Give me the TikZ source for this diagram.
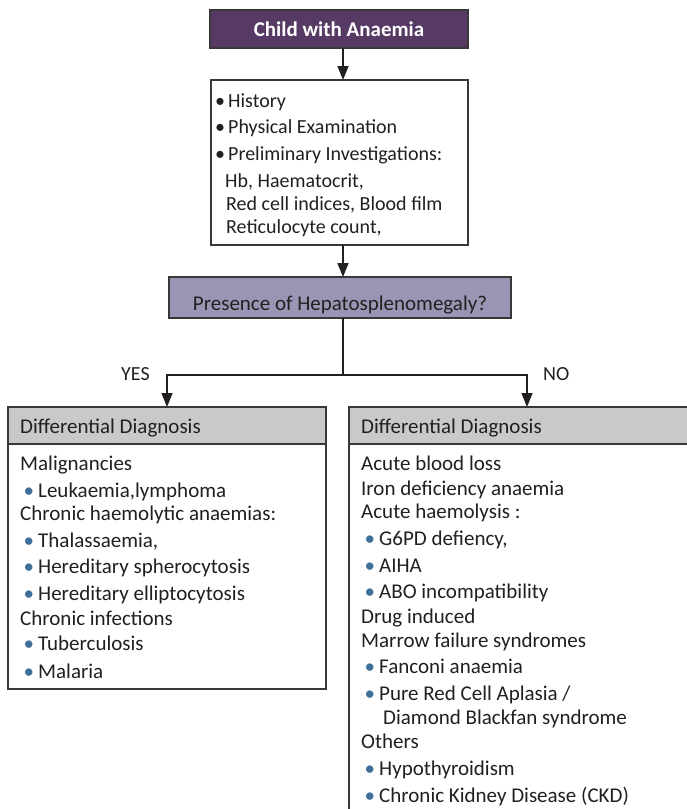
\documentclass[tikz,border=0pt]{standalone}
\usepackage{fontspec}
\setmainfont{Carlito}
\usetikzlibrary{arrows.meta}
\definecolor{purp}{HTML}{563A63}
\definecolor{lav}{HTML}{9896B4}
\definecolor{hdr}{HTML}{C9C9C9}
\definecolor{bul}{HTML}{3F6F9A}
\definecolor{edge}{HTML}{383838}
\definecolor{ink}{HTML}{231F20}
\tikzset{
  box/.style={draw=edge, line width=1.3pt, inner sep=0pt, outer sep=0pt},
  txt/.style={anchor=base west, inner sep=0pt, text=ink, font=\fontsize{21}{24}\selectfont},
  htxt/.style={txt, font=\fontsize{20}{24}\selectfont},
  arr/.style={draw=ink, line width=1.5pt, -{Triangle[length=14pt,width=11pt]}},
  lnk/.style={draw=ink, line width=1.5pt},
}
\newcommand{\bb}{\llap{\textcolor{bul}{\textbullet}\hspace{4pt}}}
\newcommand{\kb}{\llap{\textbullet\hspace{3pt}}}
\begin{document}
\begin{tikzpicture}[x=1pt,y=-1pt]
\useasboundingbox[fill=white] (0,0) rectangle (687,809);
% top
\node[box, fill=purp, minimum width=258pt, minimum height=38pt, text=white, font=\fontsize{21}{24}\selectfont\bfseries] (top) at (339,29) {Child with Anaemia};
% history box
\node[box, fill=white, minimum width=257pt, minimum height=165pt] (hist) at (339.5,162.5) {};
\node[htxt] (h1) at (228,107) {\kb History};
\node[htxt] (h2) at (228,133) {\kb Physical Examination};
\node[htxt] (h3) at (228,160) {\kb Preliminary Investigations:};
\node[htxt] (h4) at (225,187) {Hb, Haematocrit,};
\node[htxt] (h5) at (226,210) {Red cell indices, Blood film};
\node[htxt] (h6) at (226,233) {Reticulocyte count,};
% question
\node[box, fill=lav, minimum width=342pt, minimum height=41pt] (q) at (340,297.5) {};
\node[txt, anchor=base] (qt) at (340,310) {Presence of Hepatosplenomegaly?};
\coordinate (spine) at (343,0);
\draw[arr] (top.south -| spine) -- (hist.north -| spine);
\draw[arr] (hist.south -| spine) -- (q.north -| spine);
% left box
\node[box, fill=hdr, minimum width=318pt, minimum height=37pt] (lh) at (167,425.5) {};
\node[box, fill=white, minimum width=318pt, minimum height=245pt] (lb) at (167,566.5) {};
\node[txt] (lt) at (20,433) {Differential Diagnosis};
% right box
\node[box, fill=hdr, minimum width=356pt, minimum height=37pt] (rh) at (527,425.5) {};
\node[box, fill=white, minimum width=356pt, minimum height=390pt] (rb) at (527,639) {};
\node[txt] (rt) at (361,433) {Differential Diagnosis};
% branches
\coordinate (split) at (343,375);
\draw[lnk] (q.south -| spine) -- (split);
\draw[arr] (split) -| (lh.north);
\draw[arr] (split) -| (rh.north);
\node[txt, font=\fontsize{20}{24}\selectfont] (yes) at (121,380) {YES};
\node[txt, font=\fontsize{20}{24}\selectfont] (no) at (543,380) {NO};
% left content
\node[txt] (l1) at (20,470) {Malignancies};
\node[txt] (l2) at (38,497) {\bb Leukaemia,lymphoma};
\node[txt] (l3) at (20,520) {Chronic haemolytic anaemias:};
\node[txt] (l4) at (38,547) {\bb Thalassaemia,};
\node[txt] (l5) at (38,573) {\bb Hereditary spherocytosis};
\node[txt] (l6) at (38,600) {\bb Hereditary elliptocytosis};
\node[txt] (l7) at (20,625) {Chronic infections};
\node[txt] (l8) at (38,650) {\bb Tuberculosis};
\node[txt] (l9) at (38,678) {\bb Malaria};
% right content
\node[txt] (r1) at (361,470) {Acute blood loss};
\node[txt] (r2) at (361,495) {Iron deficiency anaemia};
\node[txt] (r3) at (361,518) {Acute haemolysis :};
\node[txt] (r4) at (379,545) {\bb G6PD defiency,};
\node[txt] (r5) at (379,572) {\bb AIHA};
\node[txt] (r6) at (379,598) {\bb ABO incompatibility};
\node[txt] (r7) at (361,623) {Drug induced};
\node[txt] (r8) at (361,647) {Marrow failure syndromes};
\node[txt] (r9) at (379,673) {\bb Fanconi anaemia};
\node[txt] (r10) at (379,700) {\bb Pure Red Cell Aplasia /};
\node[txt] (r11) at (383,724) {Diamond Blackfan syndrome};
\node[txt] (r12) at (361,748) {Others};
\node[txt] (r13) at (379,775) {\bb Hypothyroidism};
\node[txt] (r14) at (379,802) {\bb Chronic Kidney Disease (CKD)};
\end{tikzpicture}
\end{document}
